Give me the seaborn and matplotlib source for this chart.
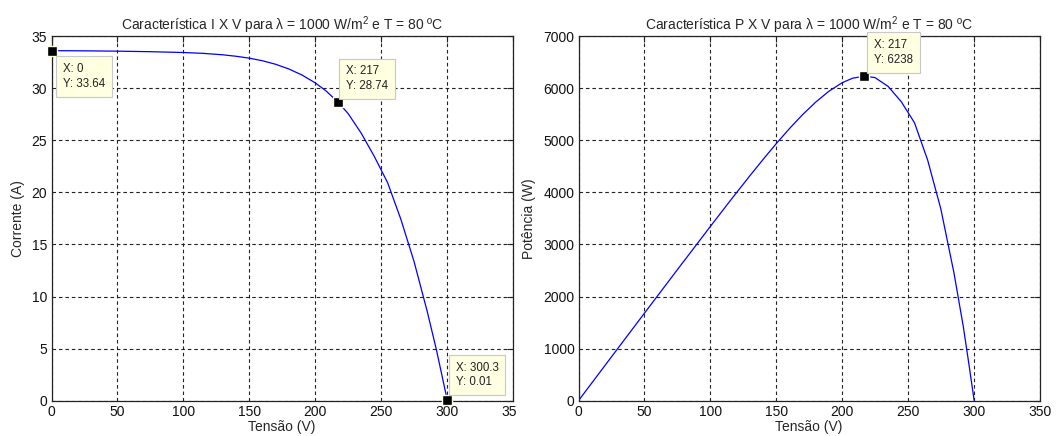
import matplotlib
matplotlib.use('Agg')
import matplotlib.pyplot as plt
import seaborn as sns
from matplotlib.transforms import Bbox, TransformedBbox

# curva I x V
tensao = [0, 25, 50, 75, 100, 115, 130, 140, 150, 160, 170, 180, 190, 200,
          208, 217, 225, 235, 245, 255, 265, 275, 285, 292, 296, 300.3]
corrente = [33.64, 33.62, 33.59, 33.54, 33.46, 33.38, 33.24, 33.10, 32.92,
            32.67, 32.33, 31.88, 31.30, 30.55, 29.80, 28.74, 27.6, 25.7,
            23.45, 20.95, 17.45, 13.4, 8.6, 4.9, 2.55, 0.01]
# curva P x V
potencia = [0, 841, 1680, 2516, 3346, 3839, 4321, 4634, 4938, 5227, 5496,
            5738, 5947, 6110, 6198, 6238, 6210, 6040, 5745, 5342, 4624, 3685,
            2451, 1431, 755, 3]

# data tips
tips_iv_x = [0, 217, 300.3]
tips_iv_y = [33.64, 28.74, 0.01]
tips_pv_x = [217]
tips_pv_y = [6238]

x_ticks = [0, 50, 100, 150, 200, 250, 300, 350]
iv_yticks = [0, 5, 10, 15, 20, 25, 30, 35]
pv_yticks = [0, 1000, 2000, 3000, 4000, 5000, 6000, 7000]

sns.set_style('white')
plt.rcParams['font.family'] = ['Liberation Sans', 'DejaVu Sans']
plt.rcParams['mathtext.default'] = 'regular'

fig = plt.figure(figsize=(10.56, 4.36), dpi=100)
ax_iv = fig.add_axes([51.5 / 1056, 35.5 / 436, 461.3 / 1056, 364 / 436])
ax_pv = fig.add_axes([578.6 / 1056, 35.5 / 436, 461.0 / 1056, 364 / 436])


def estilo(ax, yticks, ylim):
    ax.set_xlim(0, 350)
    ax.set_ylim(*ylim)
    ax.set_xticks(x_ticks)
    ax.set_yticks(yticks)
    ax.set_axisbelow(True)
    ax.grid(True, color='#222222', linestyle=(0, (3.2, 2.6)), linewidth=0.8)
    for sp in ax.spines.values():
        sp.set_color('#222222')
        sp.set_linewidth(0.9)
    ax.tick_params(direction='in', length=4, width=0.8, top=True, right=True,
                   labelsize=10, pad=3, colors='#222222', labelcolor='#111111')


def tip(ax, x, y, dx, dy, va):
    ax.annotate(f'X: {x:g}\nY: {y:g}', xy=(x, y), xytext=(dx, dy),
                textcoords='offset points', ha='left', va=va, fontsize=8.3,
                linespacing=1.3, color='#222222', annotation_clip=False, zorder=6,
                bbox=dict(boxstyle='square,pad=0.6', fc='#ffffe1', ec='#c8c8c8', lw=0.8))


# I x V
sns.lineplot(x=tensao, y=corrente, ax=ax_iv, color='#0000ff', linewidth=0.9)
sns.scatterplot(x=tips_iv_x, y=tips_iv_y, ax=ax_iv, marker='s', s=55,
                color='black', edgecolor='#ffffe1', linewidth=1, zorder=5)
ax_iv.collections[-1].set_clip_on(False)
estilo(ax_iv, iv_yticks, (0, 35))
ax_iv.set_title('Característica I X V para λ = 1000 W/m$^2$ e T = 80 ºC', fontsize=10, pad=5)
ax_iv.set_xlabel('Tensão (V)', fontsize=10, labelpad=1)
ax_iv.set_ylabel('Corrente (A)', fontsize=10, labelpad=5)
tip(ax_iv, tips_iv_x[0], tips_iv_y[0], 8.0, -9.0, 'top')
tip(ax_iv, tips_iv_x[1], tips_iv_y[1], 6.0, 6.8, 'bottom')
tip(ax_iv, tips_iv_x[2], tips_iv_y[2], 6.0, 8.6, 'bottom')

# P x V
sns.lineplot(x=tensao, y=potencia, ax=ax_pv, color='#0000ff', linewidth=0.9)
sns.scatterplot(x=tips_pv_x, y=tips_pv_y, ax=ax_pv, marker='s', s=55,
                color='black', edgecolor='#ffffe1', linewidth=1, zorder=5)
ax_pv.collections[-1].set_clip_on(False)
estilo(ax_pv, pv_yticks, (0, 7000))
ax_pv.set_title('Característica P X V para λ = 1000 W/m$^2$ e T = 80 ºC', fontsize=10, pad=5)
ax_pv.set_xlabel('Tensão (V)', fontsize=10, labelpad=1)
ax_pv.set_ylabel('Potência (W)', fontsize=10, labelpad=5)
tip(ax_pv, tips_pv_x[0], tips_pv_y[0], 6.6, 7.4, 'bottom')

# o "350" do grafico da esquerda aparece cortado no original
corte = TransformedBbox(Bbox([[0, 0], [517 / 1056, 1]]), fig.transFigure)
lbl = ax_iv.get_xticklabels()[-1]
lbl.set_clip_box(corte)
lbl.set_clip_on(True)

fig.savefig('out.png', dpi=100)
